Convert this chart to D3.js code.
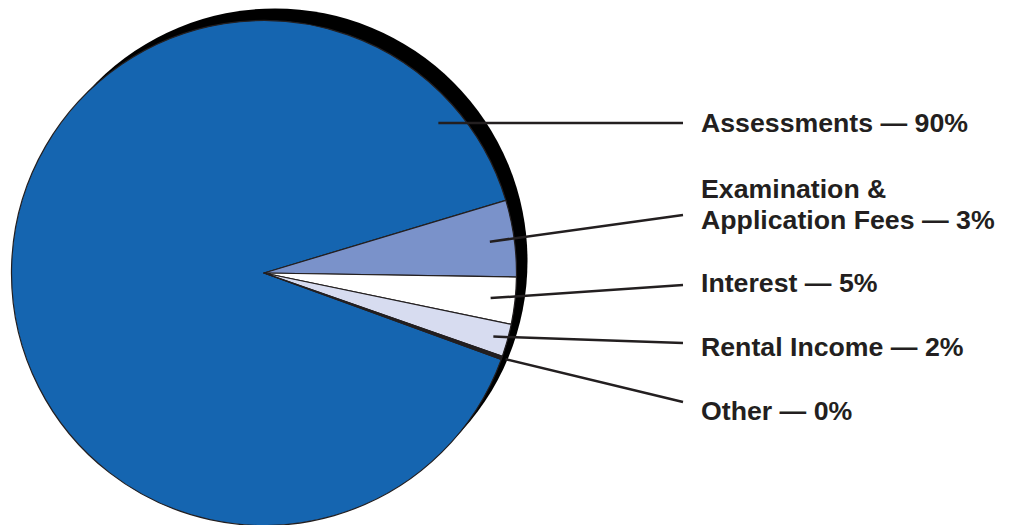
<!DOCTYPE html>
<html>
<head>
<meta charset="utf-8">
<script src="https://cdn.jsdelivr.net/npm/d3@7"></script>
<style>
  body { margin: 0; background: #fff; }
  svg { display: block; }
  text { font-family: "Liberation Sans", Arial, sans-serif; font-weight: bold; fill: #231f20; }
</style>
</head>
<body>
<div id="chart"></div>
<script>
const categories = ["Assessments", "Examination & Application Fees", "Interest", "Rental Income", "Other"]
const labelLines = [["Assessments — 90%"], ["Examination &", "Application Fees — 3%"], ["Interest — 5%"], ["Rental Income — 2%"], ["Other — 0%"]]
// slice shares as drawn
const values = [89.8, 4.9, 3.0, 2.1, 0.2]
const colors = ["#1565b0", "#7a92ca", "#ffffff", "#d7dcf0", "#231f20"]

const w = 1013
const h = 525
const cx = 264
const cy = 273
const r = 252.5
const labelX = 701
const lineEndX = 683
const textY = [132, 198, 292, 356, 420]
const lineY = [123, 215, 285, 343, 402]

const svg = d3.select('#chart')
    .append('svg')
    .attr('width', w)
    .attr('height', h)

const g = svg.append('g')
    .attr('transform', 'translate(' + cx + ',' + cy + ')')

// black rim behind the pie
g.append('circle')
    .attr('cx', 11)
    .attr('cy', -12)
    .attr('r', r)
    .attr('fill', '#000')

const deg = Math.PI / 180
const pie = d3.pie()
    .sort(null)
    .value(d => d)
    .startAngle(110 * deg)
    .endAngle(470 * deg)

const arcs = pie(values)

const arc = d3.arc()
    .innerRadius(0)
    .outerRadius(r)

g.selectAll('path.slice')
    .data(arcs)
    .enter()
    .append('path')
    .attr('class', 'slice')
    .attr('d', arc)
    .attr('fill', (d, i) => colors[i])
    .attr('stroke', '#231f20')
    .attr('stroke-width', 1.2)
    .attr('stroke-linejoin', 'round')

// leader lines
const startPoint = (d, i) => {
    if (i === 0) {
        const dy = lineY[0] - cy
        const rr = 230
        return [Math.sqrt(rr * rr - dy * dy), dy]
    }
    const a = (d.startAngle + d.endAngle) / 2
    const rr = i === 4 ? r + 4 : (i === 3 ? 238 : 228)
    return [Math.sin(a) * rr, -Math.cos(a) * rr]
}

g.selectAll('line.leader')
    .data(arcs)
    .enter()
    .append('line')
    .attr('class', 'leader')
    .attr('x1', (d, i) => startPoint(d, i)[0])
    .attr('y1', (d, i) => startPoint(d, i)[1])
    .attr('x2', lineEndX - cx)
    .attr('y2', (d, i) => lineY[i] - cy)
    .attr('stroke', '#231f20')
    .attr('stroke-width', 2.5)

const labels = svg.selectAll('text.label')
    .data(categories)
    .enter()
    .append('text')
    .attr('class', 'label')
    .attr('x', labelX)
    .attr('y', (d, i) => textY[i])
    .style('font-size', '26.7px')

labels.selectAll('tspan')
    .data((d, i) => labelLines[i])
    .enter()
    .append('tspan')
    .attr('x', labelX)
    .attr('dy', (d, j) => j === 0 ? 0 : 31)
    .text(d => d)
</script>
</body>
</html>
